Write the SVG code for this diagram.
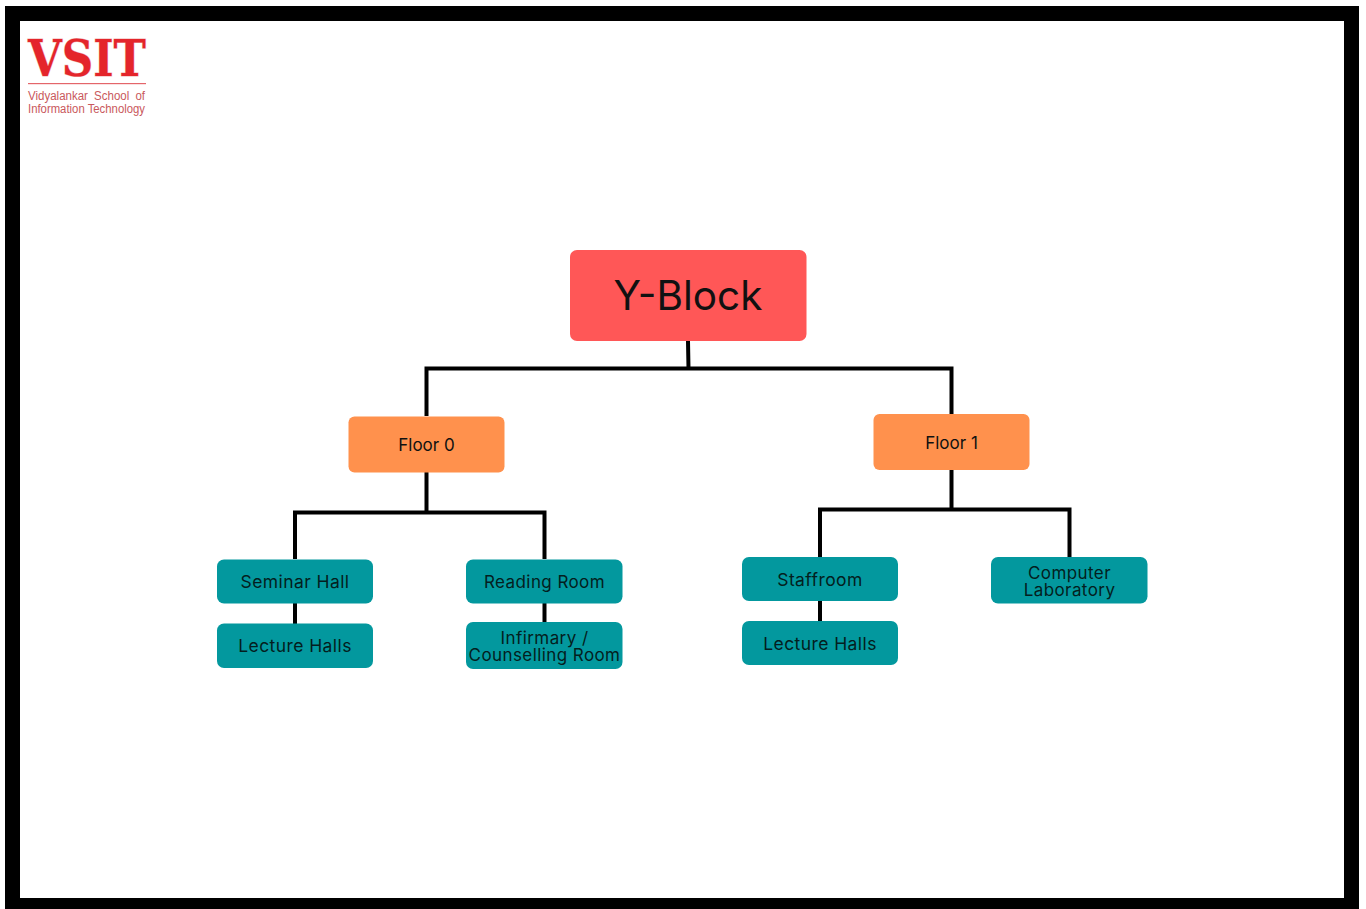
<svg xmlns="http://www.w3.org/2000/svg" width="1366" height="909" viewBox="0 0 1366 909">
<style>
text{font-family:Inter,"Liberation Sans",sans-serif;fill:#041e20;text-anchor:middle}
.teal rect{fill:#03989e}
.teal text{font-size:17.500px;letter-spacing:.42px}
.teal text.s{font-size:17px}
.orange rect{fill:#ff914d}
.orange text{font-size:17px;fill:#111}
.c{fill:none;stroke:#000;stroke-width:4}
.sub{font-family:"Liberation Sans",sans-serif;font-size:12.500px;fill:#c9585c;text-anchor:start}
</style>
<rect width="1366" height="909" fill="#fff"/>
<rect x="12.500" y="13.500" width="1339" height="892" fill="#fff" stroke="#000" stroke-width="15"/>
<g id="logo">
<text x="87" y="76" style="font-family:'DejaVu Serif',serif;font-weight:700;font-size:50px;fill:#e4252b;stroke:#f0b8b8;stroke-width:1;paint-order:stroke" textLength="118" lengthAdjust="spacingAndGlyphs">VSIT</text>
<rect x="28" y="83" width="118" height="1.200" fill="#e4656a"/>
<text class="sub" x="28" y="100" style="word-spacing:3.200px" textLength="117" lengthAdjust="spacingAndGlyphs">Vidyalankar School of</text>
<text class="sub" x="28" y="113" textLength="117" lengthAdjust="spacingAndGlyphs">Information Technology</text>
</g>
<g id="connectors" class="c">
<path d="M688 341L688.500 368.500M426.500 416V368.500H951.500V414"/>
<path d="M426.500 472V512.500M295 559V512.500H544.500V559"/>
<path d="M951.500 470V509.500M820 557V509.500H1069.500V557"/>
<path d="M295 603V624M544.500 603V622M820 601V621"/>
</g>
<g id="y-block"><rect x="570" y="250" width="236.500" height="91" rx="7" fill="#ff5757"/><text x="688" y="310" style="font-size:40.500px;fill:#111">Y-Block</text></g>
<g id="floor-0" class="orange"><rect x="348.500" y="416.500" width="156" height="56" rx="6"/><text x="426.500" y="451">Floor 0</text></g>
<g id="floor-1" class="orange"><rect x="873.500" y="414" width="156" height="56" rx="6"/><text x="951.500" y="448.500">Floor 1</text></g>
<g id="seminar-hall" class="teal"><rect x="217" y="559.500" width="156" height="44" rx="7"/><text x="295" y="588">Seminar Hall</text></g>
<g id="lecture-halls-0" class="teal"><rect x="217" y="623.500" width="156" height="44.500" rx="7"/><text x="295" y="652">Lecture Halls</text></g>
<g id="reading-room" class="teal"><rect x="466" y="559.500" width="156.500" height="44" rx="7"/><text class="s" x="544.500" y="588">Reading Room</text></g>
<g id="infirmary" class="teal"><rect x="466" y="622" width="156.500" height="47" rx="7"/><text class="s" x="544.500" y="643.500">Infirmary /</text><text class="s" x="544.500" y="660.500">Counselling Room</text></g>
<g id="staffroom" class="teal"><rect x="742" y="557" width="156" height="44" rx="7"/><text x="820" y="585.500">Staffroom</text></g>
<g id="lecture-halls-1" class="teal"><rect x="742" y="621" width="156" height="44" rx="7"/><text x="820" y="649.500">Lecture Halls</text></g>
<g id="computer-lab" class="teal"><rect x="991" y="557" width="156.500" height="46.500" rx="7"/><text class="s" x="1069.500" y="578.500">Computer</text><text class="s" x="1069.500" y="595.500">Laboratory</text></g>
</svg>
